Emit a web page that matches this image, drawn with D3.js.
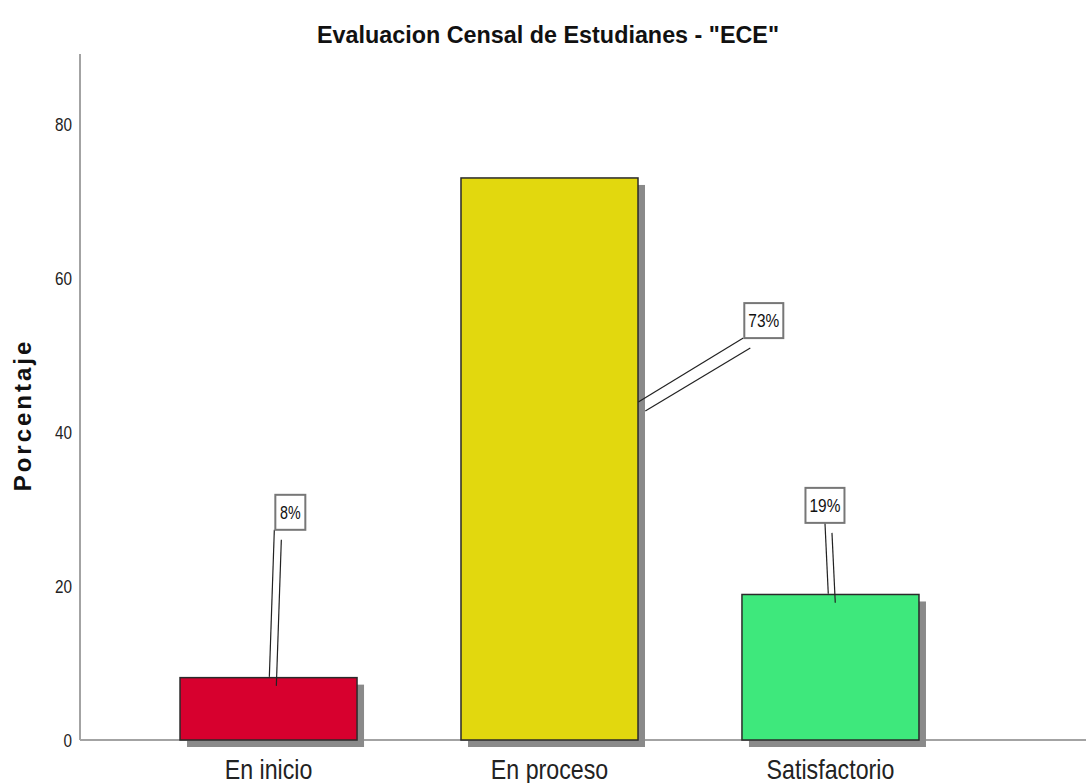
<!DOCTYPE html>
<html>
<head>
<meta charset="utf-8">
<script src="https://cdn.jsdelivr.net/npm/d3@7"></script>
<style>
    body { margin: 0; background: #fff; }
    svg { display: block; }
    text { font-family: "Liberation Sans", Arial, sans-serif; }
</style>
</head>
<body>
<div id="chart"></div>
<script>
// Chart data
const categories = ['En inicio', 'En proceso', 'Satisfactorio'];
const percentages = [8.1, 73.0, 18.9];
const pctLabels = ['8%', '73%', '19%'];
const barColors = ['#d7002e', '#e2d80e', '#3ee87c'];
const yTicks = [0, 20, 40, 60, 80];

// Callout layout: leader runs from start (dx from bar centre, y value)
// to end (dx from bar centre, y value); box left edge relative to the start point
const callouts = [
    { startDx: 5.8, startY: 27.3, endDx: 0.8, endY: 8.2, boxLeft: 1, boxW: 30 },
    { startDx: 193.8, startY: 52.2, endDx: 88.8, endY: 43.9, boxLeft: 1, boxW: 39 },
    { startDx: -5.5, startY: 28.2, endDx: -2.2, endY: 19.0, boxLeft: -19.5, boxW: 39 }
];

const width = 1086;
const height = 783;
const margin = { top: 54, left: 80, bottom: 43 };
const baseY = height - margin.bottom;

const svg = d3.select('#chart')
    .append('svg')
    .attr('width', width)
    .attr('height', height);

const x = d3.scaleBand()
    .domain(categories)
    .range([margin.left, 1019])
    .paddingInner(0.37)
    .paddingOuter(0.356);

const y = d3.scaleLinear()
    .domain([0, 89.1])
    .range([baseY, margin.top]);

const centre = c => x(c) + x.bandwidth() / 2;

// Axis lines
svg.append('line')
    .attr('x1', margin.left).attr('x2', margin.left)
    .attr('y1', y(89.1)).attr('y2', baseY)
    .attr('stroke', '#a3a3a3').attr('stroke-width', 2);

svg.append('line')
    .attr('x1', margin.left).attr('x2', width)
    .attr('y1', baseY).attr('y2', baseY)
    .attr('stroke', '#a3a3a3').attr('stroke-width', 2);

// Y tick labels (condensed look like the original)
const yAxis = d3.axisLeft(y).tickValues(yTicks).tickSize(0).tickPadding(8);
const yg = svg.append('g')
    .attr('transform', `translate(${margin.left},0)`)
    .call(yAxis);
yg.select('.domain').remove();
yg.selectAll('text')
    .attr('font-family', '"Liberation Sans", Arial, sans-serif')
    .attr('font-size', '19px')
    .attr('fill', '#222')
    .attr('textLength', d => String(d).length * 8.5)
    .attr('lengthAdjust', 'spacingAndGlyphs');

// Bars with drop shadow
const bars = svg.append('g');
bars.selectAll('.shadow')
    .data(percentages)
    .enter()
    .append('rect')
    .attr('class', 'shadow')
    .attr('x', (d, i) => x(categories[i]) + 7)
    .attr('y', d => y(d) + 7)
    .attr('width', x.bandwidth())
    .attr('height', d => baseY - y(d))
    .attr('fill', '#8a8a8a');

bars.selectAll('.bar')
    .data(percentages)
    .enter()
    .append('rect')
    .attr('class', 'bar')
    .attr('x', (d, i) => x(categories[i]))
    .attr('y', d => y(d))
    .attr('width', x.bandwidth())
    .attr('height', d => baseY - y(d))
    .attr('fill', (d, i) => barColors[i])
    .attr('stroke', '#2a2a2a')
    .attr('stroke-width', 1.5);

// X category labels, squeezed horizontally
svg.append('g')
    .selectAll('text')
    .data(categories)
    .enter()
    .append('text')
    .attr('transform', d => `translate(${centre(d)},779) scale(0.86,1)`)
    .attr('text-anchor', 'middle')
    .attr('font-size', '27px')
    .attr('fill', '#222')
    .text(d => d);

// Callouts: double leader line and boxed label
const labels = svg.append('g');
callouts.forEach((c, i) => {
    const cx = centre(categories[i]);
    const sx = cx + c.startDx, sy = y(c.startY);
    const ex = cx + c.endDx, ey = y(c.endY);

    // leader shadow line, then leader
    labels.append('line')
        .attr('x1', sx + 7).attr('y1', sy + 10)
        .attr('x2', ex + 7).attr('y2', ey + 9)
        .attr('stroke', '#222').attr('stroke-width', 1.2);
    labels.append('line')
        .attr('x1', sx).attr('y1', sy)
        .attr('x2', ex).attr('y2', ey)
        .attr('stroke', '#222').attr('stroke-width', 1.2);

    const left = sx + c.boxLeft;
    labels.append('rect')
        .attr('x', left).attr('y', sy - 35)
        .attr('width', c.boxW).attr('height', 35)
        .attr('fill', '#fff')
        .attr('stroke', '#777')
        .attr('stroke-width', 2);
    labels.append('text')
        .attr('x', left + c.boxW / 2)
        .attr('y', sy - 11)
        .attr('text-anchor', 'middle')
        .attr('font-size', '18px')
        .attr('fill', '#111')
        .attr('textLength', pctLabels[i].length * 10.3)
        .attr('lengthAdjust', 'spacingAndGlyphs')
        .text(pctLabels[i]);
});

// Title
svg.append('text')
    .attr('x', 548)
    .attr('y', 43)
    .attr('text-anchor', 'middle')
    .attr('font-weight', 'bold')
    .attr('font-size', '23px')
    .attr('textLength', 462)
    .attr('lengthAdjust', 'spacingAndGlyphs')
    .attr('fill', '#111')
    .text('Evaluacion Censal de Estudianes - "ECE"');

// Y axis title
svg.append('text')
    .attr('transform', 'translate(31,415) rotate(-90)')
    .attr('text-anchor', 'middle')
    .attr('font-weight', 'bold')
    .attr('font-size', '24px')
    .attr('letter-spacing', '3px')
    .attr('fill', '#111')
    .text('Porcentaje');
</script>
</body>
</html>
